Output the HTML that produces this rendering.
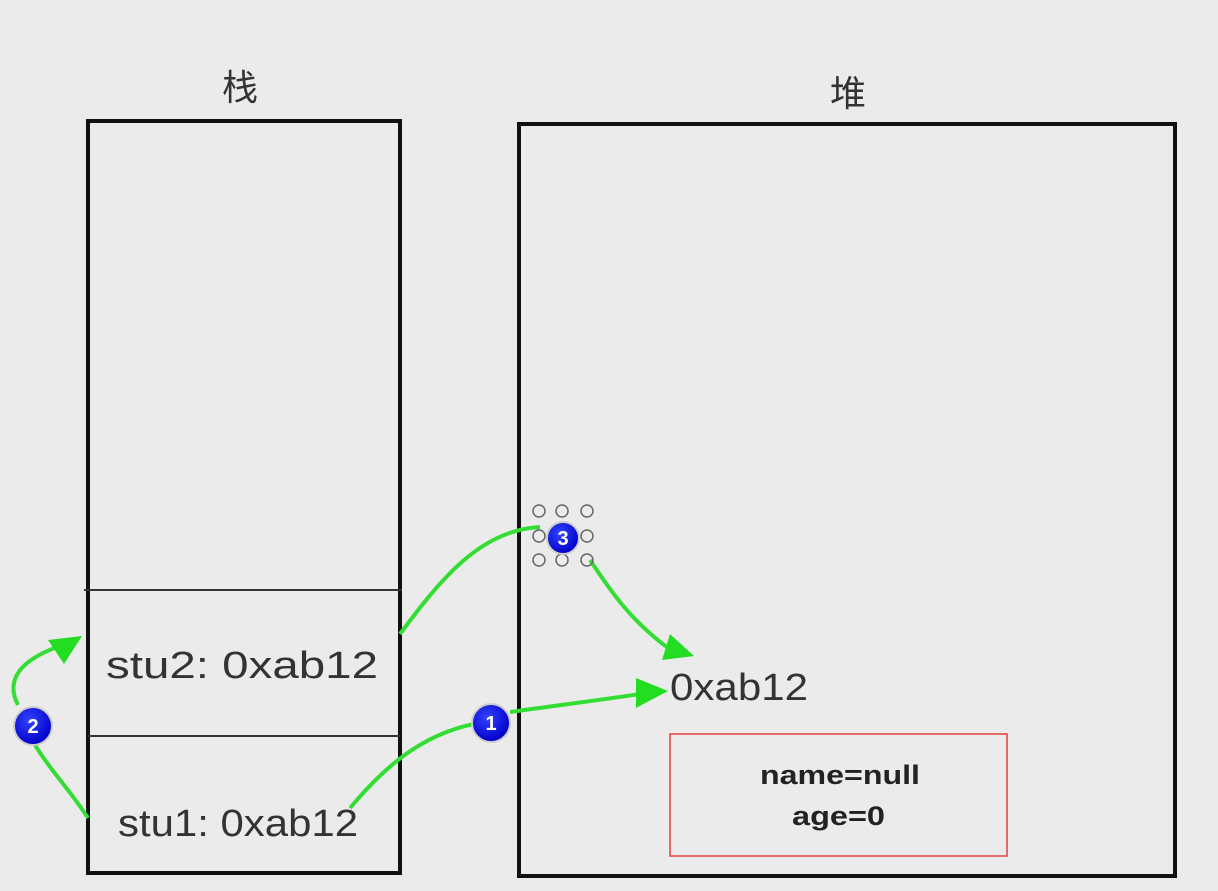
<!DOCTYPE html>
<html><head><meta charset="utf-8"><style>
html,body{margin:0;padding:0;background:#ebebeb;}
svg{display:block;}
text{font-family:"Liberation Sans","Noto Sans CJK SC",sans-serif;}
</style></head><body>
<svg width="1218" height="891" viewBox="0 0 1218 891" xmlns="http://www.w3.org/2000/svg">
<defs>
<radialGradient id="g" cx="40%" cy="35%" r="65%"><stop offset="0" stop-color="#3344ff"/><stop offset="1" stop-color="#0000c8"/></radialGradient>
</defs>
<rect width="1218" height="891" fill="#ebebeb"/>
<text x="240" y="100" font-size="36" text-anchor="middle" fill="#333">栈</text>
<text x="848" y="106" font-size="36" text-anchor="middle" fill="#333">堆</text>
<rect x="88" y="121" width="312" height="752" fill="none" stroke="#111" stroke-width="4"/>
<line x1="84" y1="590" x2="402" y2="590" stroke="#333" stroke-width="2"/>
<line x1="88" y1="736" x2="400" y2="736" stroke="#333" stroke-width="2"/>
<rect x="519" y="124" width="656" height="752" fill="none" stroke="#111" stroke-width="4"/>
<text x="106" y="678" font-size="38" fill="#333" textLength="272" lengthAdjust="spacingAndGlyphs">stu2:   0xab12</text>
<text x="118" y="836" font-size="38" fill="#333" textLength="240" lengthAdjust="spacingAndGlyphs">stu1: 0xab12</text>
<text x="670" y="700" font-size="38" fill="#333" textLength="138" lengthAdjust="spacingAndGlyphs">0xab12</text>
<rect x="670" y="734" width="337" height="122" fill="none" stroke="#e04040" stroke-width="1.5"/>
<text x="760" y="784" font-size="27" font-weight="bold" fill="#222" textLength="160" lengthAdjust="spacingAndGlyphs">name=null</text>
<text x="792" y="825" font-size="27" font-weight="bold" fill="#222" textLength="93" lengthAdjust="spacingAndGlyphs">age=0</text>
<g fill="none" stroke="#33dd33" stroke-width="4">
<path d="M400 634 C440 580 480 530 540 527"/>
<path d="M590 560 C610 590 630 620 668 648"/>
<path d="M350 808 C390 760 430 730 485 722"/>
<path d="M510 712 C560 705 600 700 640 694"/>
<path d="M88 818 C70 790 50 770 35 745"/>
<path d="M18 705 C5 680 20 660 60 646"/>
</g>
<g fill="#22dd22">
<polygon points="694,656 662,660 670,634"/>
<polygon points="668,691 636,708 636,678"/>
<polygon points="82,636 64,664 48,640"/>
</g>
<g fill="none" stroke="#666" stroke-width="1.5">
<circle cx="539" cy="511" r="6"/><circle cx="562" cy="511" r="6"/><circle cx="587" cy="511" r="6"/>
<circle cx="539" cy="536" r="6"/><circle cx="587" cy="536" r="6"/>
<circle cx="539" cy="560" r="6"/><circle cx="562" cy="560" r="6"/><circle cx="587" cy="560" r="6"/>
</g>
<g stroke="#ccc" stroke-width="2" fill="url(#g)">
<circle cx="563" cy="538" r="16"/>
<circle cx="33" cy="726" r="19"/>
<circle cx="491" cy="723" r="19"/>
</g>
<g fill="#fff" font-size="20" font-weight="bold" text-anchor="middle">
<text x="563" y="545">3</text>
<text x="33" y="733">2</text>
<text x="491" y="730">1</text>
</g>
</svg>
</body></html>
